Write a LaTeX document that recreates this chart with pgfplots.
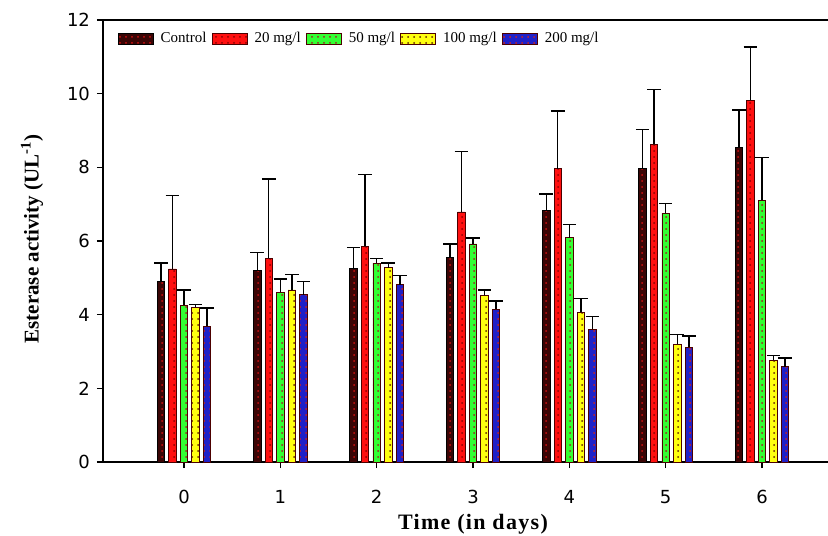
\documentclass[border=0pt]{standalone}
\usepackage{fontspec}
\setmainfont{Liberation Serif}
\newfontfamily\tickfont{DejaVu Sans}
\usepackage{pgfplots}
\pgfplotsset{compat=1.18}
\usepackage{pgfplotstable}
\usetikzlibrary{patterns}

\definecolor{ctrl}{HTML}{3A0505}
\definecolor{ctrldot}{HTML}{D01010}
\definecolor{rd}{HTML}{FF1010}
\definecolor{rddot}{HTML}{8A0000}
\definecolor{gr}{HTML}{33FF33}
\definecolor{grdot}{HTML}{A02020}
\definecolor{yl}{HTML}{FFFF10}
\definecolor{yldot}{HTML}{602000}
\definecolor{bl}{HTML}{2020C8}
\definecolor{bldot}{HTML}{D02020}

\pgfplotstableread{
x y e
0 4.90 0.50
1 5.19 0.50
2 5.26 0.56
3 5.56 0.36
4 6.82 0.46
5 7.96 1.07
6 8.53 1.03
}\tctrl
\pgfplotstableread{
x y e
0 5.24 1.99
1 5.53 2.15
2 5.86 1.94
3 6.79 1.64
4 7.96 1.57
5 8.63 1.48
6 9.82 1.45
}\ttwenty
\pgfplotstableread{
x y e
0 4.26 0.41
1 4.61 0.36
2 5.40 0.12
3 5.92 0.16
4 6.09 0.35
5 6.75 0.26
6 7.11 1.16
}\tfifty
\pgfplotstableread{
x y e
0 4.20 0.07
1 4.67 0.42
2 5.28 0.12
3 4.53 0.14
4 4.07 0.37
5 3.20 0.26
6 2.76 0.13
}\thundred
\pgfplotstableread{
x y e
0 3.69 0.49
1 4.54 0.36
2 4.81 0.25
3 4.15 0.22
4 3.61 0.34
5 3.11 0.31
6 2.59 0.23
}\ttwohundred

\begin{document}
\begin{tikzpicture}
\begin{axis}[
  scale only axis,
  width=362.5pt, height=221pt,
  xmin=-0.841, xmax=6.685,
  ymin=0, ymax=12,
  ybar, bar width=0.078,
  axis x line*=bottom, axis y line*=left,
  axis line style={-, line width=0.7pt, black},
  tick align=outside,
  major tick length=3pt,
  tick style={line width=0.7pt, black},
  xtick={0,1,2,3,4,5,6},
  ytick={0,2,4,6,8,10,12},
  /pgf/number format/assume math mode=true,
  ticklabel style={font=\tickfont\fontsize{9}{10}\selectfont},
  xticklabel style={yshift=-7.5pt},
  yticklabel style={xshift=0pt},
  xlabel={\fontsize{11}{12}\selectfont\bfseries\addfontfeature{LetterSpace=6}Time (in days)},
  xlabel style={at={(axis description cs:0.5103,-0.14)}, anchor=center},
  ylabel={\fontsize{10.5}{12}\selectfont\bfseries Esterase activity (UL\textsuperscript{-1})},
  ylabel style={at={(axis description cs:-0.098,0.505)}, anchor=center, rotate=0},
  legend columns=-1,
  legend style={at={(axis description cs:0.02,0.982)}, anchor=north west,
    draw=none, fill=none, inner sep=0pt,
    font=\fontsize{7.5}{9}\selectfont,
    /tikz/every odd column/.append style={column sep=1.5pt},
    /tikz/every even column/.append style={column sep=0.6pt}},
  legend image code/.code={\draw[#1] (0pt,-2.6pt) rectangle (17.5pt,2.6pt);},
  error bars/y dir=plus,
  error bars/y explicit,
  error bars/error bar style={line width=0.7pt, black},
  error bars/error mark options={line width=0.7pt, black, mark size=3.4pt, rotate=90},
]
\addplot[bar shift=-0.24, draw=black, line width=0.4pt, fill=ctrl,
  postaction={pattern=dots, pattern color=ctrldot}]
  table[x=x, y=y, y error=e]{\tctrl};
\addplot[bar shift=-0.12, draw=black!70!red, line width=0.4pt, fill=rd,
  postaction={pattern=dots, pattern color=rddot}]
  table[x=x, y=y, y error=e]{\ttwenty};
\addplot[bar shift=0, draw=black!70!red, line width=0.4pt, fill=gr,
  postaction={pattern=dots, pattern color=grdot}]
  table[x=x, y=y, y error=e]{\tfifty};
\addplot[bar shift=0.12, draw=black!70!red, line width=0.4pt, fill=yl,
  postaction={pattern=dots, pattern color=yldot}]
  table[x=x, y=y, y error=e]{\thundred};
\addplot[bar shift=0.24, draw=black!70!red, line width=0.4pt, fill=bl,
  postaction={pattern=dots, pattern color=bldot}]
  table[x=x, y=y, y error=e]{\ttwohundred};
\legend{Control, 20 mg/l, 50 mg/l, 100 mg/l, 200 mg/l}
\draw[line width=0.7pt, black] (rel axis cs:0,1) -- (rel axis cs:1,1);
\end{axis}
\pgfresetboundingbox
\path[use as bounding box] (-51.5pt,-36.5pt) rectangle (362.5pt,231pt);
\end{tikzpicture}
\end{document}
